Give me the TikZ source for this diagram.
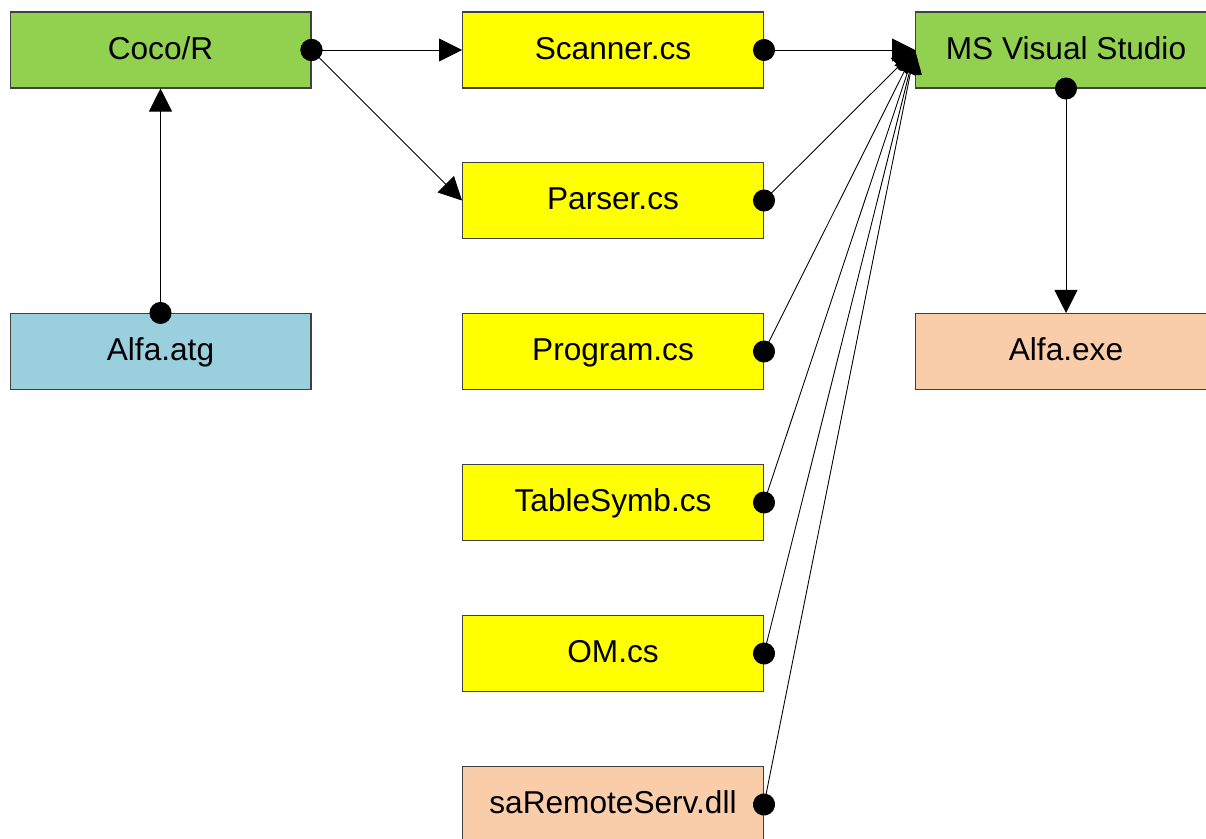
\documentclass[tikz,border=0pt]{standalone}
\usepackage{fontspec}
\setmainfont{Liberation Sans}
\usetikzlibrary{arrows.meta}

\definecolor{cocogreen}{RGB}{146,208,80}
\definecolor{csyellow}{RGB}{255,255,0}
\definecolor{atgblue}{RGB}{154,208,222}
\definecolor{binpeach}{RGB}{249,204,170}

\tikzset{
    file/.style={draw=black!75, line width=0.6pt, inner sep=0pt,
        minimum width=6.02cm, minimum height=1.52cm,
        text height=12.9pt, text depth=2.5pt,
        font=\fontsize{18}{22}\selectfont},
    link/.style={line width=0.5pt,
        {Circle[length=0.44cm]}-{Triangle[length=0.46cm,width=0.46cm]},
        shorten <=-0.22cm}
}

\begin{document}
\begin{tikzpicture}[x=0.02cm, y=-0.02cm]
    \useasboundingbox (0,0) rectangle (1206,838);
    \clip (0,0) rectangle (1206,838);

    % left column
    \node[file, fill=cocogreen] (coco) at (160.5,50) {Coco/R};
    \node[file, fill=atgblue] (atg) at (160.5,351.5) {Alfa.atg};

    % generated and own sources
    \node[file, fill=csyellow] (scanner) at (613,50) {Scanner.cs};
    \node[file, fill=csyellow] (parser) at (613,200.5) {Parser.cs};
    \node[file, fill=csyellow] (program) at (613,351.5) {Program.cs};
    \node[file, fill=csyellow] (tablesymb) at (613,502.5) {TableSymb.cs};
    \node[file, fill=csyellow] (om) at (613,653.5) {OM.cs};
    \node[file, fill=binpeach] (remote) at (613,804.5) {saRemoteServ.dll};

    % right column
    \node[file, fill=cocogreen] (vs) at (1066,50) {MS Visual Studio};
    \node[file, fill=binpeach] (exe) at (1066,351.5) {Alfa.exe};

    \draw[link] (atg.north) -- (coco.south);
    \draw[link] (coco.east) -- (scanner.west);
    \draw[link] (coco.east) -- (parser.west);

    \foreach \src in {scanner, parser, program, tablesymb, om, remote}
        \draw[link] (\src.east) -- (vs.west);

    \draw[link] (vs.south) -- (exe.north);
\end{tikzpicture}
\end{document}
